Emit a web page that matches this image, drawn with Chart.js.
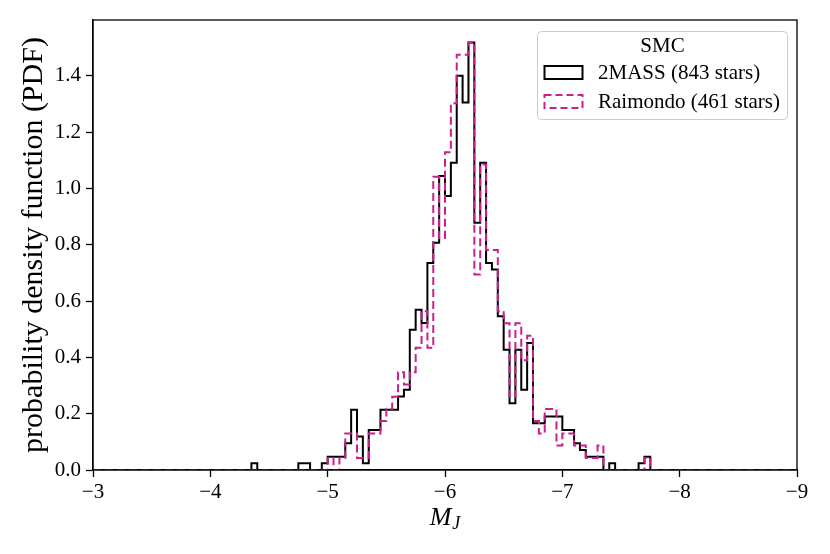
<!DOCTYPE html>
<html lang="en">
<head>
<meta charset="UTF-8">
<title>SMC M_J histogram</title>
<style>
  html, body { margin: 0; padding: 0; background: #fff; }
  canvas { display: block; }
</style>
</head>
<body>
<canvas id="histChart" width="830" height="554"></canvas>

<script src="https://cdn.jsdelivr.net/npm/chart.js@4.4.1/dist/chart.umd.min.js"></script>
<script>
// bin layout: 0.05 mag bins, first non-empty bin starts at M_J = -4.35
var binWidth = 0.05;
var firstEdge = -4.35;

// PDF heights per bin (bins -4.35 ... -7.80)
var twoMass = [
    0.024, 0, 0, 0, 0, 0, 0, 0, 0.024, 0.024,
    0, 0, 0.024, 0.047, 0.047, 0.047, 0.095, 0.214, 0.119, 0.024,
    0.142, 0.142, 0.214, 0.214, 0.214, 0.261, 0.285, 0.498, 0.569, 0.522,
    0.735, 0.807, 1.044, 0.973, 1.091, 1.400, 1.305, 1.518, 0.878, 1.091,
    0.735, 0.712, 0.546, 0.427, 0.237, 0.427, 0.285, 0.451, 0.166, 0.166,
    0.190, 0.190, 0.190, 0.142, 0.142, 0.095, 0.071, 0.047, 0.047, 0.047,
    0, 0.024, 0, 0, 0, 0, 0.024, 0.047
];
var raimondo = [
    0, 0, 0, 0, 0, 0, 0, 0, 0, 0,
    0, 0, 0, 0.043, 0, 0.043, 0.130, 0.130, 0.043, 0.043,
    0.130, 0.130, 0.174, 0.217, 0.260, 0.347, 0.304, 0.347, 0.434, 0.564,
    0.434, 1.041, 0.824, 1.128, 1.302, 1.475, 1.475, 1.518, 0.694, 1.085,
    0.781, 0.781, 0.564, 0.521, 0.260, 0.521, 0.390, 0.477, 0.174, 0.130,
    0.217, 0.217, 0.087, 0.130, 0.130, 0.087, 0.087, 0.043, 0.043, 0.087,
    0, 0, 0, 0, 0, 0, 0, 0.043
];

var seriesLabels = ['2MASS (843 stars)', 'Raimondo (461 stars)'];
var legendTitle = 'SMC';
var xTicks = [-3, -4, -5, -6, -7, -8, -9];
var yTicks = [0, 0.2, 0.4, 0.6, 0.8, 1.0, 1.2, 1.4];
var xRange = [-9, -3];
var yMax = 1.598;

var black = '#000000';
var pink = '#cc1f8c';
var serif = '"Liberation Serif", "Times New Roman", serif';

// turn bin heights into step outline points (left edge of each bin)
function stepPoints(values) {
    var pts = [{x: xRange[1], y: 0}];
    for (var i = 0; i < values.length; i++) {
        pts.push({x: firstEdge - binWidth * i, y: values[i]});
    }
    pts.push({x: firstEdge - binWidth * values.length, y: 0});
    pts.push({x: xRange[0], y: 0});
    return pts;
}

function minusLabel(v) {
    return v < 0 ? '\u2212' + Math.abs(v) : String(v);
}

var extras = {
    id: 'extras',
    afterDraw: function(chart) {
        var ctx = chart.ctx;
        var a = chart.chartArea;
        ctx.save();

        // axes box
        ctx.strokeStyle = black;
        ctx.lineWidth = 1.3;
        ctx.strokeRect(a.left, a.top, a.right - a.left, a.bottom - a.top);

        // legend
        var lx = 537.5, ly = 31.5, lw = 250, lh = 88, r = 4;
        ctx.beginPath();
        ctx.moveTo(lx + r, ly);
        ctx.arcTo(lx + lw, ly, lx + lw, ly + lh, r);
        ctx.arcTo(lx + lw, ly + lh, lx, ly + lh, r);
        ctx.arcTo(lx, ly + lh, lx, ly, r);
        ctx.arcTo(lx, ly, lx + lw, ly, r);
        ctx.closePath();
        ctx.fillStyle = 'rgba(255,255,255,0.8)';
        ctx.fill();
        ctx.strokeStyle = '#cccccc';
        ctx.lineWidth = 1;
        ctx.stroke();

        ctx.fillStyle = black;
        ctx.font = '21px ' + serif;
        ctx.textBaseline = 'middle';
        ctx.textAlign = 'center';
        ctx.fillText(legendTitle, lx + lw / 2, 46);

        ctx.textAlign = 'left';
        ctx.lineWidth = 2;
        ctx.strokeStyle = black;
        ctx.setLineDash([]);
        ctx.strokeRect(544.5, 66, 38, 13);
        ctx.fillText(seriesLabels[0], 598, 73);

        ctx.strokeStyle = pink;
        ctx.setLineDash([7, 4]);
        ctx.strokeRect(544.5, 95, 38, 13);
        ctx.setLineDash([]);
        ctx.fillText(seriesLabels[1], 598, 102);

        // y title
        ctx.save();
        ctx.translate(34, (a.top + a.bottom) / 2);
        ctx.rotate(-Math.PI / 2);
        ctx.textAlign = 'center';
        ctx.font = '30px ' + serif;
        ctx.fillText('probability density function (PDF)', 0, 0);
        ctx.restore();

        // x title: M_J
        ctx.textBaseline = 'alphabetic';
        ctx.font = 'italic 26px ' + serif;
        var mW = ctx.measureText('M').width;
        ctx.font = 'italic 18px ' + serif;
        var jW = ctx.measureText('J').width;
        var x0 = (a.left + a.right) / 2 - (mW + jW + 1) / 2;
        ctx.font = 'italic 26px ' + serif;
        ctx.fillText('M', x0, 525);
        ctx.font = 'italic 18px ' + serif;
        ctx.fillText('J', x0 + mW + 1, 529);

        ctx.restore();
    }
};

function createChart() {
    var ctx = document.getElementById('histChart').getContext('2d');
    new Chart(ctx, {
        type: 'line',
        data: {
            datasets: [
                {
                    label: seriesLabels[0],
                    data: stepPoints(twoMass),
                    borderColor: black,
                    borderWidth: 2,
                    stepped: 'before',
                    fill: false,
                    pointRadius: 0,
                    order: 2
                },
                {
                    label: seriesLabels[1],
                    data: stepPoints(raimondo),
                    borderColor: pink,
                    borderWidth: 2,
                    borderDash: [8, 4],
                    stepped: 'before',
                    fill: false,
                    pointRadius: 0,
                    order: 1
                }
            ]
        },
        options: {
            responsive: false,
            animation: false,
            layout: { padding: { left: 0, right: 33, top: 20, bottom: 0 } },
            plugins: { legend: { display: false }, tooltip: { enabled: false } },
            scales: {
                x: {
                    type: 'linear',
                    min: xRange[0],
                    max: xRange[1],
                    reverse: true,
                    afterBuildTicks: function(scale) {
                        scale.ticks = xTicks.map(function(v) { return {value: v}; });
                    },
                    afterFit: function(scale) { scale.height = 84; },
                    ticks: {
                        color: black,
                        font: { family: serif, size: 21 },
                        padding: 3,
                        maxRotation: 0,
                        callback: function(v) { return minusLabel(v); }
                    },
                    grid: {
                        drawOnChartArea: false,
                        drawTicks: true,
                        tickLength: 7,
                        tickWidth: 1.3,
                        tickColor: black
                    },
                    border: { display: true, color: black, width: 1.3 }
                },
                y: {
                    type: 'linear',
                    min: 0,
                    max: yMax,
                    afterBuildTicks: function(scale) {
                        scale.ticks = yTicks.map(function(v) { return {value: v}; });
                    },
                    afterFit: function(scale) { scale.width = 93; },
                    ticks: {
                        color: black,
                        font: { family: serif, size: 21 },
                        padding: 5,
                        callback: function(v) { return v.toFixed(1); }
                    },
                    grid: {
                        drawOnChartArea: false,
                        drawTicks: true,
                        tickLength: 7,
                        tickWidth: 1.3,
                        tickColor: black
                    },
                    border: { display: true, color: black, width: 1.3 }
                }
            }
        },
        plugins: [extras]
    });
}
createChart();
</script>
</body>
</html>
